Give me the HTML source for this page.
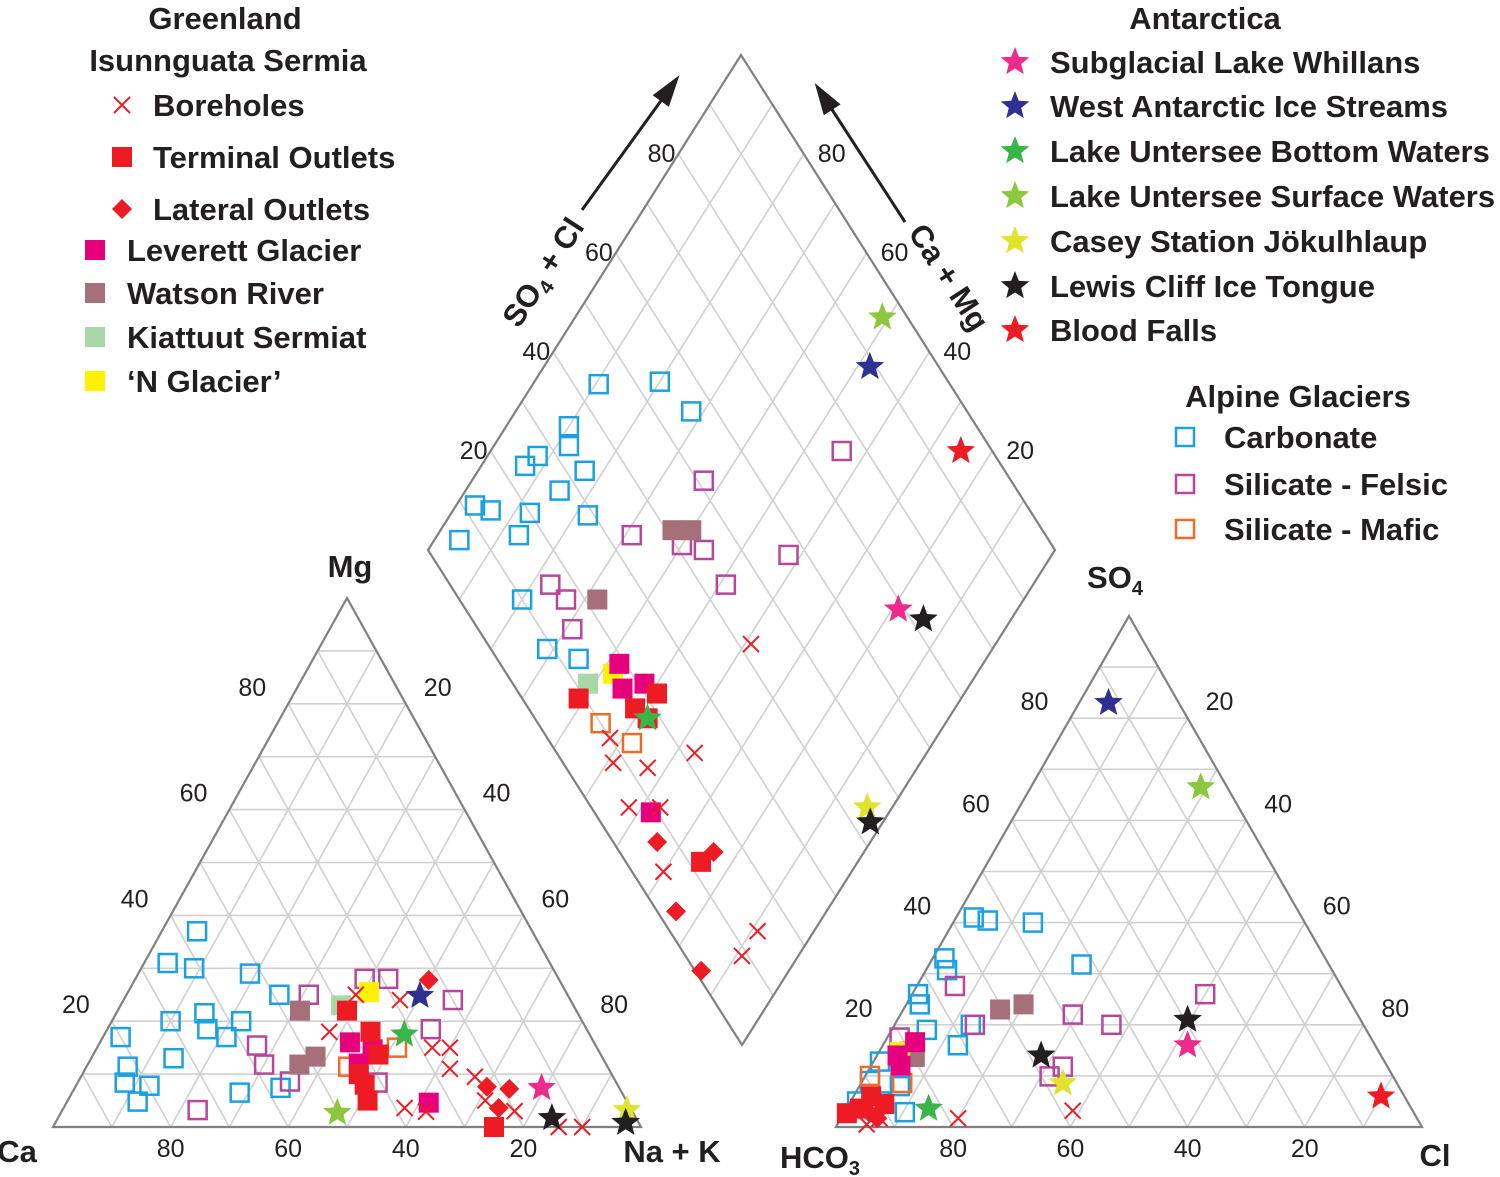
<!DOCTYPE html>
<html><head><meta charset="utf-8">
<style>
body{margin:0;background:#fff;}
svg{display:block;font-family:"Liberation Sans",sans-serif;}
.lg{font-size:31px;font-weight:bold;fill:#231f20;}
.tk{font-size:25px;fill:#231f20;}
</style></head>
<body>
<svg id="c" width="1500" height="1177" viewBox="0 0 1500 1177" xmlns="http://www.w3.org/2000/svg">
<g id="grid"></g>
<g id="marks"></g>
<g id="legend"></g>
</svg>
<script>
// ---- Left triangle (cations): [Mg %, Na+K %]
const catBore=[[25,39],[18,38],[15,57],[15,60],[11,62],[9.5,67],[3.6,58],[2.9,62],[0,86],[0,90],[5,71],[24,47],[3,77]];
const catTerm=[[18,45],[13.7,48.5],[8,49],[5,51],[22,39],[0,75],[10,47]];
const catLat=[[27.8,50],[7.6,70],[7.2,74],[3.6,74]];
const catLev=[[16,42.5],[14.7,47],[4.6,61.6],[12,46]];
const catWat=[[22,31],[11.8,36],[13.3,38]];
const catKia=[[23,37.5]];
const catNG=[[25.5,41]];
const catCarb=[[37,6],[31,4],[30,9],[29,19],[25,26],[17,3],[20,10],[21.5,15],[20,22],[18.5,17],[17,21],[13,14],[11.4,7],[8.4,8],[7.8,12.5],[4.8,12],[6.5,28.5],[7.4,35]];
const catFel=[[25,31],[28,39],[28,43],[24,56],[15.4,27],[11.8,30],[8.6,36],[3.2,23],[18.5,55],[8.4,51]];
const catMaf=[[11.4,44.5],[15,51]];
const catStars=[[7.4,79.4,'#ee2a8a'],[24.8,50,'#2e3192'],[17.5,51,'#39b54a'],[2.7,47,'#8dc63f'],[3.2,96,'#dfe32c'],[1.7,84,'#231f20'],[0.8,97,'#231f20']];
// ---- Right triangle (anions): [SO4 %, Cl %]
const anBore=[[1.7,20],[3.2,38.8],[1.7,6.6],[0.5,5]];
const anTerm=[[2.7,0.5],[3.6,2.3],[4.5,6],[6,3]];
const anLat=[[1.7,6.2],[3,4]];
const anLev=[[16.6,5.2],[14,3.5],[12,5]];
const anWat=[[23,16.5],[24,20],[13.7,6.6]];
const anNG=[[14.7,3.6]];
const anCarb=[[41,3],[40.4,5.7],[40,13.6],[33,2],[30.7,3.6],[31.8,26],[26,1],[24,2.3],[20,13],[16,12.8],[12.8,1.1],[9,1.3],[5,5],[5,1.1],[2.9,10.3],[8,6.9],[19,6]];
const anFel=[[26,50],[22,29.4],[20,37],[27.6,6.5],[20,13.7],[11.8,32.8],[9.9,31.5],[17.5,2.1],[14.7,5.3]];
const anMaf=[[10,0.8],[8.6,7]];
const anStars=[[83,5,'#2e3192'],[66.5,29,'#8dc63f'],[21,49.5,'#231f20'],[14,28,'#231f20'],[16,52,'#ee2a8a'],[8.6,34.4,'#dfe32c'],[6,90,'#ed1c24'],[3.6,14,'#39b54a']];
// ---- Diamond: [SO4+Cl %, Na+K %]
const dmCarb=[[89.5,44],[80,54],[72,56],[90,35],[88,33],[92,27],[83,33],[93,24],[85,27],[97,12],[94,14],[87.5,20],[78,29],[96,6],[87,16],[80,10],[71,9],[65,13]];
const dmFel=[[63,51],[69,34],[60,41],[56,44],[42,57],[49,44],[77,16],[73,17],[69,15],[44,76]];
const dmWat=[[63,41],[60,44],[68,22]];
const dmKia=[[61,12]];
const dmNG=[[58,17]];
const dmLev=[[58,19],[52,21],[55,17],[38,9]];
const dmTerm=[[61,9],[49,22],[51,17],[48,18],[25,12]];
const dmMaf=[[55,10],[48,13]];
const dmLat=[[34,7],[24,15],[24,3],[14,1]];
const dmBore=[[39,42],[37,22],[49,8],[43,13],[42,6],[37,11],[30,5],[9,9],[9,14],[52,10]];
const dmStars=[[51,96,'#8dc63f'],[48,89,'#2e3192'],[25,95,'#ed1c24'],[19,69,'#ee2a8a'],[14,72,'#231f20'],[4,44,'#dfe32c'],[2,43,'#231f20'],[48,18,'#39b54a']];

const ticksA=['20','40','60','80'];
const NS='http://www.w3.org/2000/svg';
function mk(tag,attrs,parent){const e=document.createElementNS(NS,tag);for(const k in attrs)e.setAttribute(k,attrs[k]);parent.appendChild(e);return e;}
const G=document.getElementById('grid'),M=document.getElementById('marks'),L=document.getElementById('legend');

const LT={a:[53,1127],b:[641,1127],c:[347,598]};
const RT={a:[836,1127],b:[1422,1127],c:[1129,616]};
function tri(T,top,right){const t=top/100,r=right/100,l=1-t-r;return [l*T.a[0]+r*T.b[0]+t*T.c[0],l*T.a[1]+r*T.b[1]+t*T.c[1]];}
const DB=[742,1045],DL=[428,550],DR=[1055,550];
function dia(s,n){s/=100;n/=100;return [DB[0]+s*(DL[0]-DB[0])+n*(DR[0]-DB[0]),DB[1]+s*(DL[1]-DB[1])+n*(DR[1]-DB[1])];}

function line(p,q,col,w){const e=mk('line',{x1:p[0],y1:p[1],x2:q[0],y2:q[1],stroke:col,'stroke-width':w},G);}
function triGrid(T){
  for(let i=1;i<10;i++){const v=i*10;
    line(tri(T,v,0),tri(T,v,100-v),'#d0d0d0',1.6);
    line(tri(T,0,v),tri(T,100-v,v),'#d0d0d0',1.6);
    line(tri(T,0,100-v),tri(T,100-v,0),'#d0d0d0',1.6);}
  const o=mk('polygon',{points:[T.a,T.b,T.c].map(p=>p.join(',')).join(' '),fill:'none',stroke:'#808080','stroke-width':2.2},G);
  
}
triGrid(LT);triGrid(RT);
for(let i=1;i<10;i++){const v=i*10;line(dia(v,0),dia(v,100),'#d0d0d0',1.6);line(dia(0,v),dia(100,v),'#d0d0d0',1.6);}
const dO=mk('polygon',{points:[DB,DL,dia(100,100),DR].map(p=>p.join(',')).join(' '),fill:'none',stroke:'#808080','stroke-width':2.2},G);


function txt(x,y,s,cls,anchor,parent,name){const e=mk('text',{x:x,y:y,class:cls,'text-anchor':anchor||'middle'},parent||G);e.textContent=s;return e;}
ticksA.forEach((t,i)=>{const v=(i+1)*20;
  let p=tri(LT,v,0);txt(p[0]-22,p[1]-8,t,'tk','end');
  p=tri(LT,100-v,v);txt(p[0]+18,p[1]-8,t,'tk','start');
  p=tri(LT,0,100-v);txt(p[0],p[1]+30,t,'tk');
  p=tri(RT,100-v,0);txt(p[0]-22,p[1]-8,ticksA[3-i],'tk','end');
  p=tri(RT,v,100-v);txt(p[0]+18,p[1]-8,ticksA[3-i],'tk','start');
  p=tri(RT,0,v);txt(p[0],p[1]+30,ticksA[3-i],'tk');
  p=dia(100,v);txt(p[0]-3,p[1]+8,t,'tk','end');
  p=dia(v,100);txt(p[0]+14,p[1]+8,t,'tk','start');
});
const at=(x,y,s,nm,an)=>{const e=txt(x,y,'', 'lg',an||'middle',G,nm);e.innerHTML=s;return e;};
at(350,577,'Mg','mg-axis-title');
at(17,1162,'Ca','ca-axis-title');
at(672,1162,'Na + K','nak-axis-title');
at(1115,588,'SO<tspan font-size="20" dy="7">4</tspan>','so4-axis-title');
at(820,1168,'HCO<tspan font-size="20" dy="7">3</tspan>','hco3-axis-title');
at(1435,1166,'Cl','cl-axis-title');
const t1=at(0,0,'SO<tspan font-size="20" dy="7">4</tspan><tspan dy="-7"> + Cl</tspan>','so4cl-axis-title');t1.setAttribute('transform','translate(552,278) rotate(-57)');
const t2=at(0,0,'Ca + Mg','camg-axis-title');t2.setAttribute('transform','translate(940,283) rotate(57)');
function arrow(x1,y1,x2,y2,nm){const e=mk('line',{x1:x1,y1:y1,x2:x2,y2:y2,stroke:'#231f20','stroke-width':3},G);
 const a=Math.atan2(y2-y1,x2-x1),h=26,w=10;const p=[[x2+6*Math.cos(a),y2+6*Math.sin(a)],[x2-h*Math.cos(a)+w*Math.sin(a),y2-h*Math.sin(a)-w*Math.cos(a)],[x2-h*Math.cos(a)-w*Math.sin(a),y2-h*Math.sin(a)+w*Math.cos(a)]];
 const hd=mk('polygon',{points:p.map(q=>q.join(',')).join(' '),fill:'#231f20'},G);}
arrow(582,210,676,80,'so4cl-arrow');arrow(905,222,818,88,'camg-arrow');

function marker(type,col,x,y,par,nm){
  let e;
  if(type==='x'){e=mk('path',{d:`M${x-8},${y-8}L${x+8},${y+8}M${x+8},${y-8}L${x-8},${y+8}`,stroke:col,'stroke-width':2,fill:'none'},par);}
  else if(type==='sq'){e=mk('rect',{x:x-10,y:y-10,width:20,height:20,fill:col},par);}
  else if(type==='osq'){e=mk('rect',{x:x-9,y:y-9,width:18,height:18,fill:'none',stroke:col,'stroke-width':2.5},par);}
  else if(type==='dm'){e=mk('polygon',{points:`${x},${y-10} ${x+10},${y} ${x},${y+10} ${x-10},${y}`,fill:col},par);}
  else {let pts=[];for(let i=0;i<10;i++){const r=i%2?6.5:15,a=-Math.PI/2+i*Math.PI/5;pts.push((x+r*Math.cos(a)).toFixed(1)+','+(y+r*Math.sin(a)).toFixed(1));}e=mk('polygon',{points:pts.join(' '),fill:col},par);}
  
  
}
const series=[
 ['osq','#1ba1e2',catCarb,anCarb,dmCarb,'carbonate-point'],
 ['osq','#b6479b',catFel,anFel,dmFel,'felsic-point'],
 ['osq','#f26a2a',catMaf,anMaf,dmMaf,'mafic-point'],
 ['sq','#a5707a',catWat,anWat,dmWat,'watson-river-point'],
 ['sq','#a8d8a8',catKia,[],dmKia,'kiattuut-point'],
 ['sq','#fff200',catNG,anNG,dmNG,'n-glacier-point'],
 ['sq','#e6007e',catLev,anLev,dmLev,'leverett-point'],
 ['x','#ed1c24',catBore,anBore,dmBore,'borehole-point'],
 ['sq','#ed1c24',catTerm,anTerm,dmTerm,'terminal-outlet-point'],
 ['dm','#ed1c24',catLat,anLat,dmLat,'lateral-outlet-point'],
];
series.forEach(s=>{
  s[2].forEach(d=>{const p=tri(LT,d[0],d[1]);marker(s[0],s[1],p[0],p[1],M,s[5]);});
  s[3].forEach(d=>{const p=tri(RT,d[0],d[1]);marker(s[0],s[1],p[0],p[1],M,s[5]);});
  s[4].forEach(d=>{const p=dia(d[0],d[1]);marker(s[0],s[1],p[0],p[1],M,s[5]);});
});
catStars.forEach(d=>{const p=tri(LT,d[0],d[1]);marker('st',d[2],p[0],p[1],M,'antarctic-star');});
anStars.forEach(d=>{const p=tri(RT,d[0],d[1]);marker('st',d[2],p[0],p[1],M,'antarctic-star');});
dmStars.forEach(d=>{const p=dia(d[0],d[1]);marker('st',d[2],p[0],p[1],M,'antarctic-star');});

txt(225,29,'Greenland','lg','middle',L,'greenland-legend-title').setAttribute('font-size','34');
txt(228,71,'Isunnguata Sermia','lg','middle',L,'isunnguata-subtitle');
const gl=[['x','#ed1c24',122,153,105,'Boreholes'],['sq','#ed1c24',122,153,157,'Terminal Outlets'],['dm','#ed1c24',122,153,209,'Lateral Outlets'],
 ['sq','#e6007e',95,127,250,'Leverett Glacier'],['sq','#a5707a',95,127,293,'Watson River'],['sq','#a8d8a8',95,127,337,'Kiattuut Sermiat'],['sq','#fff200',95,127,381,'\u2018N Glacier\u2019']];
gl.forEach(g=>{marker(g[0],g[1],g[2],g[4],L,'legend-swatch');txt(g[3],g[4]+11,g[5],'lg','start',L,'legend-entry');});
txt(1205,29,'Antarctica','lg','middle',L,'antarctica-legend-title').setAttribute('font-size','34');
const al=[['#ee2a8a','Subglacial Lake Whillans',62],['#2e3192','West Antarctic Ice Streams',106],['#39b54a','Lake Untersee Bottom Waters',151],['#8dc63f','Lake Untersee Surface Waters',196],['#dfe32c','Casey Station J\u00f6kulhlaup',241],['#231f20','Lewis Cliff Ice Tongue',286],['#ed1c24','Blood Falls',330]];
al.forEach(g=>{marker('st',g[0],1015,g[2],L,'legend-swatch');txt(1050,g[2]+11,g[1],'lg','start',L,'legend-entry');});
txt(1298,407,'Alpine Glaciers','lg','middle',L,'alpine-legend-title').setAttribute('font-size','33');
[['#1ba1e2','Carbonate',437],['#b6479b','Silicate - Felsic',484],['#f26a2a','Silicate - Mafic',529]].forEach(g=>{marker('osq',g[0],1185,g[2],L,'legend-swatch');txt(1224,g[2]+11,g[1],'lg','start',L,'legend-entry');});
</script>
</body></html>
